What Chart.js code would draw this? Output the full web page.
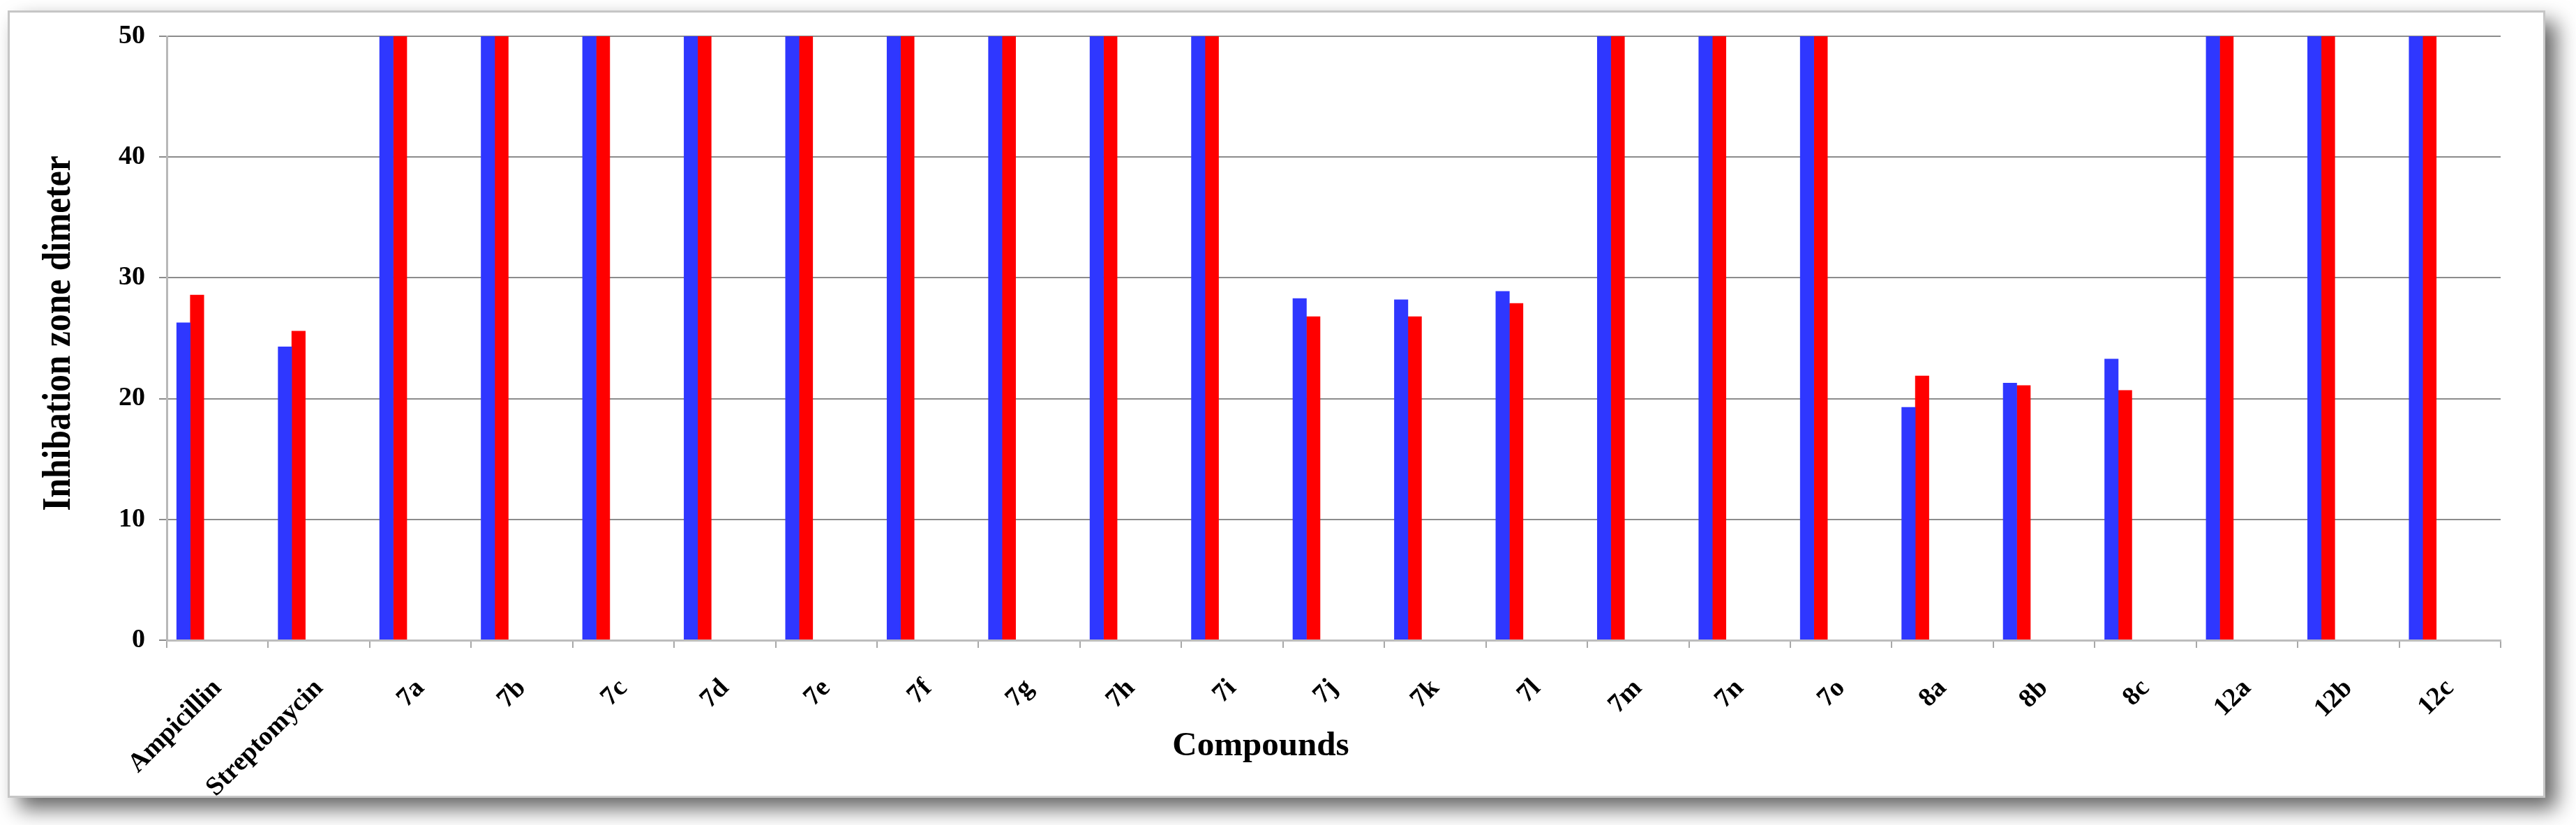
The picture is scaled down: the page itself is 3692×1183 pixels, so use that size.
<!DOCTYPE html>
<html>
<head>
<meta charset="utf-8">
<title>Inhibition zone diameter</title>
<script src="https://cdn.jsdelivr.net/npm/chart.js@4.4.1/dist/chart.umd.min.js"></script>
<style>
    html, body {
        margin: 0;
        padding: 0;
        background: #ffffff;
    }
    #page {
        position: relative;
        width: 3692px;
        height: 1183px;
        overflow: hidden;
    }
    /* White card with a grey border and soft drop shadow */
    #frame {
        position: absolute;
        left: 11px;
        top: 15px;
        width: 3637px;
        height: 1129px;
        box-sizing: border-box;
        border: 3px solid #c6c6c6;
        background: #ffffff;
        box-shadow: 16px 16px 28px rgba(0, 0, 0, 0.6);
    }
    #chart-box {
        position: absolute;
        left: 0;
        top: 0;
        width: 3692px;
        height: 1183px;
    }
</style>
</head>
<body>
<div id="page">
    <div id="frame"></div>
    <div id="chart-box"><canvas id="chart"></canvas></div>
</div>
<script>
// Categories on the x axis
const compounds = ['Ampicillin', 'Streptomycin', '7a', '7b', '7c', '7d', '7e', '7f', '7g', '7h', '7i',
    '7j', '7k', '7l', '7m', '7n', '7o', '8a', '8b', '8c', '12a', '12b', '12c'];

// Inhibition zone values (bars at the top are capped at 50)
const series1 = [26.3, 24.3, 50, 50, 50, 50, 50, 50, 50, 50, 50,
    28.3, 28.2, 28.9, 50, 50, 50, 19.3, 21.3, 23.3, 50, 50, 50];
const series2 = [28.6, 25.6, 50, 50, 50, 50, 50, 50, 50, 50, 50,
    26.8, 26.8, 27.9, 50, 50, 50, 21.9, 21.1, 20.7, 50, 50, 50];

// Y axis ticks
const yTicks = [0, 10, 20, 30, 40, 50];

// Axis titles
const xTitle = 'Compounds';
const yTitle = 'Inhibation zone dimeter';

// The original sheet reserves six bar slots per category and only the first two hold data
const emptySlots = 4;

const serif = '"Liberation Serif", "Times New Roman", serif';

document.addEventListener('DOMContentLoaded', function() {
    const canvas = document.getElementById('chart');

    // Draw the two axis titles by hand so they sit where the original puts them
    const axisTitles = {
        id: 'axisTitles',
        afterDraw(chart) {
            const ctx = chart.ctx;
            ctx.save();
            ctx.fillStyle = '#000000';

            // x title
            ctx.font = 'bold 49px ' + serif;
            ctx.textAlign = 'center';
            ctx.textBaseline = 'alphabetic';
            ctx.fillText(xTitle, 1807, 1083);

            // y title, a little condensed like the source
            ctx.translate(100, 478);
            ctx.rotate(-Math.PI / 2);
            ctx.scale(0.87, 1);
            ctx.font = 'bold 57px ' + serif;
            ctx.textAlign = 'center';
            ctx.textBaseline = 'alphabetic';
            ctx.fillText(yTitle, 0, 0);
            ctx.restore();
        }
    };

    const datasets = [
        {
            label: 'Series1',
            data: series1,
            backgroundColor: '#2f37ff',
            borderWidth: 0
        },
        {
            label: 'Series2',
            data: series2,
            backgroundColor: '#ff0000',
            borderWidth: 0
        }
    ];
    for (let i = 0; i < emptySlots; i++) {
        datasets.push({ label: '', data: [], backgroundColor: 'rgba(0,0,0,0)', borderWidth: 0 });
    }

    new Chart(canvas, {
        type: 'bar',
        data: {
            labels: compounds,
            datasets: datasets
        },
        options: {
            responsive: true,
            maintainAspectRatio: false,
            animation: false,
            categoryPercentage: 0.805,
            barPercentage: 1.03,
            layout: {
                padding: { left: 0, right: 108, top: 52, bottom: 0 }
            },
            plugins: {
                legend: { display: false },
                tooltip: { enabled: false },
                title: { display: false }
            },
            scales: {
                x: {
                    afterFit: function(scale) { scale.height = 265; },
                    grid: {
                        display: true,
                        drawOnChartArea: false,
                        drawTicks: true,
                        tickLength: 11,
                        offset: true,
                        color: '#a8a8a8',
                        lineWidth: 2
                    },
                    border: { display: true, color: '#bdbdbd', width: 3 },
                    ticks: {
                        autoSkip: false,
                        minRotation: 45,
                        maxRotation: 45,
                        padding: 36,
                        color: '#000000',
                        font: { family: serif, size: 38, weight: 'bold' }
                    }
                },
                y: {
                    min: 0,
                    max: 50,
                    afterFit: function(scale) { scale.width = 239; },
                    afterBuildTicks: function(scale) {
                        scale.ticks = yTicks.map(v => ({ value: v }));
                    },
                    grid: {
                        color: '#8c8c8c',
                        lineWidth: 2,
                        tickLength: 11
                    },
                    border: { display: true, color: '#b8b8b8', width: 3 },
                    ticks: {
                        padding: 20,
                        color: '#000000',
                        font: { family: serif, size: 38, weight: 'bold' }
                    }
                }
            }
        },
        plugins: [axisTitles]
    });
});
</script>
</body>
</html>
